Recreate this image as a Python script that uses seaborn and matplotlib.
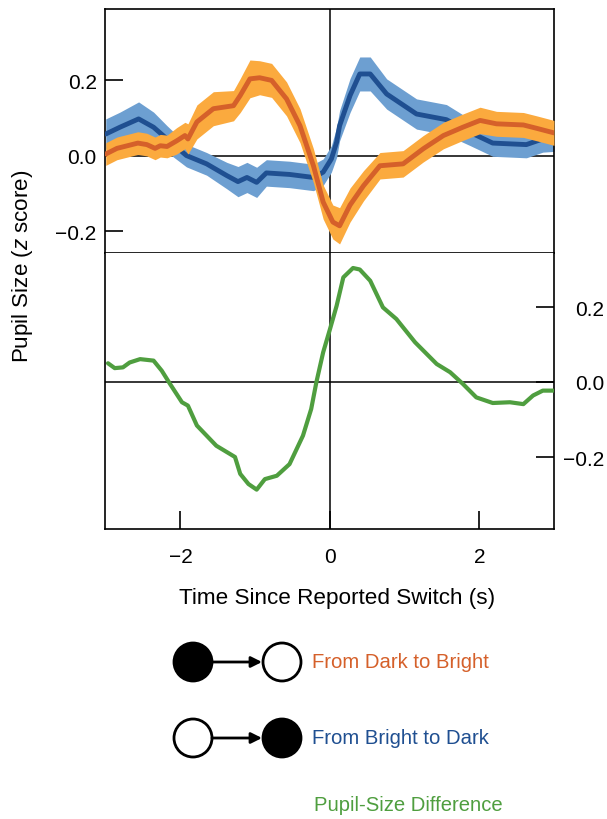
import numpy as np
import pandas as pd
import matplotlib
import matplotlib.pyplot as plt
import seaborn as sns
from matplotlib.patches import Circle

# values
dark_to_bright_t = [-3.0, -2.85, -2.57, -2.45, -2.34, -2.27, -2.18, -2.05, -1.94, -1.90,
                    -1.78, -1.56, -1.29, -1.20, -1.07, -0.94, -0.78, -0.58, -0.40, -0.22,
                    -0.09, 0.04, 0.13, 0.27, 0.45, 0.67, 0.98, 1.25, 1.52, 1.78,
                    2.01, 2.23, 2.59, 2.77, 3.0]
dark_to_bright = [0.005, 0.02, 0.034, 0.03, 0.02, 0.027, 0.025, 0.04, 0.054, 0.045,
                  0.09, 0.125, 0.133, 0.16, 0.204, 0.207, 0.20, 0.151, 0.08, -0.026,
                  -0.122, -0.175, -0.185, -0.13, -0.079, -0.026, -0.021, 0.019, 0.054, 0.076,
                  0.094, 0.085, 0.082, 0.073, 0.061]
dark_to_bright_err = [0.03, 0.03, 0.03, 0.03, 0.03, 0.03, 0.03, 0.035, 0.035, 0.04,
                      0.045, 0.045, 0.04, 0.045, 0.05, 0.045, 0.045, 0.045, 0.045, 0.045,
                      0.045, 0.045, 0.048, 0.045, 0.04, 0.035, 0.035, 0.035, 0.035, 0.035,
                      0.035, 0.033, 0.033, 0.033, 0.033]

bright_to_dark_t = [-3.0, -2.81, -2.56, -2.36, -2.18, -1.92, -1.65, -1.38, -1.23, -1.11,
                    -0.98, -0.85, -0.54, -0.22, -0.09, 0.02, 0.09, 0.13, 0.27, 0.40,
                    0.54, 0.76, 1.16, 1.56, 1.87, 2.18, 2.63, 2.85, 3.0]
bright_to_dark = [0.058, 0.076, 0.098, 0.076, 0.045, 0.001, -0.021, -0.052, -0.068, -0.057,
                  -0.07, -0.045, -0.049, -0.057, -0.043, -0.008, 0.036, 0.08, 0.16, 0.217,
                  0.217, 0.164, 0.111, 0.096, 0.063, 0.034, 0.03, 0.045, 0.047]
bright_to_dark_err = [0.04, 0.04, 0.045, 0.04, 0.035, 0.03, 0.03, 0.035, 0.04, 0.04,
                      0.04, 0.035, 0.035, 0.035, 0.035, 0.035, 0.04, 0.04, 0.045, 0.045,
                      0.045, 0.04, 0.04, 0.04, 0.035, 0.035, 0.035, 0.035, 0.035]

diff_t = [-2.97, -2.88, -2.77, -2.68, -2.54, -2.36, -2.25, -2.14, -1.98, -1.90,
          -1.78, -1.52, -1.27, -1.20, -1.09, -0.98, -0.87, -0.71, -0.54, -0.36,
          -0.25, -0.18, -0.09, 0.0, 0.09, 0.18, 0.31, 0.40, 0.54, 0.71,
          0.89, 1.14, 1.43, 1.61, 1.78, 1.96, 2.18, 2.41, 2.59, 2.72,
          2.85, 2.99]
diff = [0.05, 0.037, 0.039, 0.052, 0.061, 0.057, 0.03, -0.005, -0.054, -0.063,
        -0.116, -0.17, -0.2, -0.245, -0.272, -0.287, -0.259, -0.25, -0.219, -0.143,
        -0.072, 0.0, 0.079, 0.14, 0.203, 0.279, 0.304, 0.3, 0.27, 0.199,
        0.168, 0.106, 0.048, 0.026, -0.005, -0.041, -0.056, -0.054, -0.059, -0.036,
        -0.023, -0.023]

x_ticks = [-2, 0, 2]
x_ticklabels = ["\u22122", "0", "2"]
y_ticks = [-0.2, 0.0, 0.2]
y_ticklabels = ["\u22120.2", "0.0", "0.2"]

orange_band, orange_line = "#fbaa3e", "#d5602a"
blue_band, blue_line = "#6d9fd1", "#1f4f91"
green = "#4f9e3f"

sns.set_style("white")
main_font = "Liberation Sans"
plt.rcParams["font.family"] = [main_font, "DejaVu Sans"]
plt.rcParams["mathtext.fontset"] = "custom"
plt.rcParams["mathtext.rm"] = main_font
plt.rcParams["mathtext.it"] = main_font + ":italic"
plt.rcParams["text.color"] = "black"
plt.rcParams["xtick.color"] = "black"
plt.rcParams["ytick.color"] = "black"

W, H = 607, 820
fig = plt.figure(figsize=(W / 100, H / 100), dpi=100)

def frac(x0, y0, x1, y1):
    return [x0 / W, 1 - y1 / H, (x1 - x0) / W, (y1 - y0) / H]

ax_top = fig.add_axes(frac(105, 10, 554, 254))
ax_bot = fig.add_axes(frac(105, 254, 554, 530))

# top panel: two switch directions with bands
d2b = pd.DataFrame({"t": dark_to_bright_t, "z": dark_to_bright, "e": dark_to_bright_err})
b2d = pd.DataFrame({"t": bright_to_dark_t, "z": bright_to_dark, "e": bright_to_dark_err})

ax_top.axhline(0, color="black", lw=1.1, zorder=1)
ax_top.axvline(0, color="black", lw=1.1, zorder=1)
ax_top.fill_between(b2d["t"], b2d["z"] - b2d["e"], b2d["z"] + b2d["e"],
                    color=blue_band, lw=0, zorder=2)
sns.lineplot(data=b2d, x="t", y="z", ax=ax_top, color=blue_line, lw=3.5, zorder=3)
ax_top.fill_between(d2b["t"], d2b["z"] - d2b["e"], d2b["z"] + d2b["e"],
                    color=orange_band, lw=0, zorder=4)
sns.lineplot(data=d2b, x="t", y="z", ax=ax_top, color=orange_line, lw=3.5, zorder=5)

ax_top.set_xlim(-3.01, 3.0)
ax_top.set_ylim(-0.257, 0.389)
ax_top.set_yticks(y_ticks)
ax_top.set_yticklabels(y_ticklabels)
ax_top.set_xticks([])
ax_top.tick_params(axis="y", direction="in", length=13, width=1.2, pad=6,
                   labelsize=15, left=True)
ax_top.set_xlabel("")
ax_top.set_ylabel("")

# bottom panel: difference
dd = pd.DataFrame({"t": diff_t, "z": diff})
ax_bot.axhline(0, color="black", lw=1.1, zorder=1)
ax_bot.axvline(0, color="black", lw=1.1, zorder=1)
sns.lineplot(data=dd, x="t", y="z", ax=ax_bot, color=green, lw=3.0, zorder=3)
ax_bot.set_xlim(-3.01, 3.0)
ax_bot.set_ylim(-0.392, 0.344)
ax_bot.set_xticks(x_ticks)
ax_bot.set_xticklabels(x_ticklabels)
ax_bot.yaxis.tick_right()
ax_bot.set_yticks(y_ticks)
ax_bot.set_yticklabels(y_ticklabels, ha="right")
ax_bot.tick_params(axis="y", direction="in", length=13, width=1.2, pad=36,
                   labelsize=15, right=True, left=False)
ax_bot.tick_params(axis="x", direction="in", length=13, width=1.2, pad=13,
                   labelsize=15, bottom=True)
ax_bot.set_xlabel("")
ax_bot.set_ylabel("")

for ax in (ax_top, ax_bot):
    for s in ax.spines.values():
        s.set_color("black")
        s.set_linewidth(1.2)
ax_bot.spines["top"].set_visible(False)

fig.text(337.5 / W, 1 - 599 / H, "Time Since Reported Switch (s)", ha="center",
         va="center", fontsize=16.2)
fig.text(22.5 / W, 1 - 266 / H, "Pupil Size ($\\it{z}$ score)", ha="center",
         va="center", rotation=90, fontsize=16.1)

# legend drawn in pixel coordinates
lg = fig.add_axes([0, 0, 1, 1], zorder=-1)
lg.set_xlim(0, W)
lg.set_ylim(H, 0)
lg.axis("off")
rows = [(663, True, orange_line, "From Dark to Bright"),
        (739, False, blue_line, "From Bright to Dark")]
for y, first_filled, col, label in rows:
    lg.add_patch(Circle((193, y), 19, fc="black" if first_filled else "white",
                        ec="black", lw=2))
    lg.add_patch(Circle((282, y), 19, fc="white" if first_filled else "black",
                        ec="black", lw=2))
    lg.annotate("", xy=(262, y), xytext=(212, y),
                arrowprops=dict(arrowstyle="-|>", lw=2, color="black",
                                mutation_scale=16, shrinkA=0, shrinkB=0))
    lg.text(312, y, label, color=col, fontsize=14.6, va="center", ha="left")
lg.text(314, 806, "Pupil-Size Difference", color=green, fontsize=14.6,
        va="center", ha="left")

fig.savefig("out.png", dpi=100)
